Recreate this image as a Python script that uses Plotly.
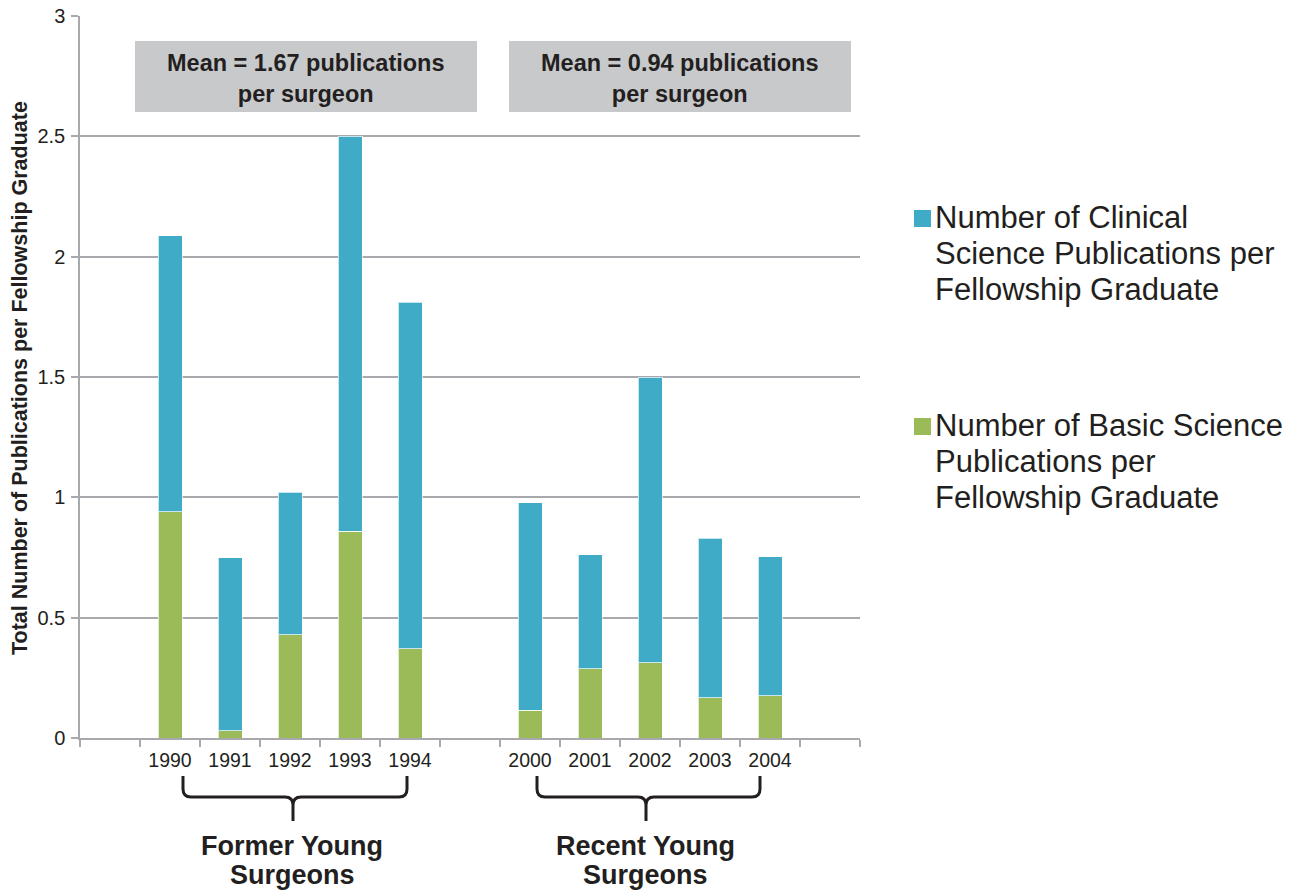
import plotly.graph_objects as go

# ---- data ----
categories = [" ", "1990", "1991", "1992", "1993", "1994", "  ",
              "2000", "2001", "2002", "2003", "2004", "   "]
basic_science = [None, 0.94, 0.03, 0.43, 0.86, 0.37, None,
                 0.115, 0.287, 0.312, 0.167, 0.176, None]
clinical_science = [None, 1.146, 0.72, 0.592, 1.64, 1.441, None,
                    0.862, 0.475, 1.188, 0.664, 0.577, None]
y_ticks = [0, 0.5, 1, 1.5, 2, 2.5, 3]
y_tick_labels = ["0", "0.5", "1", "1.5", "2", "2.5", "3"]
legend_lines = [["Number of Clinical", "Science Publications per", "Fellowship Graduate"],
                ["Number of Basic Science", "Publications per", "Fellowship Graduate"]]
mean_labels = ["Mean = 1.67 publications<br>per surgeon",
               "Mean = 0.94 publications<br>per surgeon"]
group_lines = [["Former Young", "Surgeons"], ["Recent Young", "Surgeons"]]
y_title = "Total Number of Publications per Fellowship Graduate"

BLUE = "#3fabc6"
GREEN = "#9bbb59"
TEXT = "#231f20"
GRID = "#a7a9ac"
FONT = "Liberation Sans"

W, H = 1300, 893
L, R, T, B = 80, 440, 16, 155
PW, PH = W - L - R, H - T - B


def px(x):
    return (x - L) / PW


def py(y):
    return (H - B - y) / PH


fig = go.Figure()
fig.add_trace(go.Bar(x=categories, y=basic_science, name="Basic",
                     marker=dict(color=GREEN, line=dict(color="rgba(255,255,255,0.7)", width=1)),
                     showlegend=False))
fig.add_trace(go.Bar(x=categories, y=clinical_science, name="Clinical",
                     marker=dict(color=BLUE, line=dict(color="rgba(255,255,255,0.7)", width=1)),
                     showlegend=False))

shapes = []
annotations = []


def text_line(x, y, s, size, bold=False, xanchor="left"):
    annotations.append(dict(xref="paper", yref="paper", x=px(x), y=py(y),
                            text=("<b>" + s + "</b>") if bold else s, showarrow=False,
                            xanchor=xanchor, yanchor="middle",
                            font=dict(size=size, color=TEXT, family=FONT)))


# mean boxes
boxes = [(135, 477), (509, 851)]
for (x0, x1), lab in zip(boxes, mean_labels):
    shapes.append(dict(type="rect", xref="paper", yref="paper",
                       x0=px(x0), x1=px(x1), y0=py(112), y1=py(41),
                       fillcolor="#c8c9cb", line=dict(width=0), layer="above"))
    annotations.append(dict(xref="paper", yref="paper", x=px((x0 + x1) / 2), y=py(78.5),
                            text="<b>" + lab + "</b>", showarrow=False,
                            xanchor="center", yanchor="middle",
                            font=dict(size=23.5, color=TEXT, family=FONT)))

# braces
braces = [(183, 293, 407), (537, 646, 760)]
for (x0, xm, x1), lines in zip(braces, group_lines):
    ytop, ymid, ytip = 776, 797, 821
    r = 8
    pts = [
        f"M {px(x0)},{py(ytop)}",
        f"L {px(x0)},{py(ymid - r)}",
        f"Q {px(x0)},{py(ymid)} {px(x0 + r)},{py(ymid)}",
        f"L {px(xm - r)},{py(ymid)}",
        f"Q {px(xm)},{py(ymid)} {px(xm)},{py(ymid + r)}",
        f"L {px(xm)},{py(ytip)}",
        f"M {px(xm)},{py(ymid + r)}",
        f"Q {px(xm)},{py(ymid)} {px(xm + r)},{py(ymid)}",
        f"L {px(x1 - r)},{py(ymid)}",
        f"Q {px(x1)},{py(ymid)} {px(x1)},{py(ymid - r)}",
        f"L {px(x1)},{py(ytop)}",
    ]
    shapes.append(dict(type="path", xref="paper", yref="paper", path=" ".join(pts),
                       line=dict(color=TEXT, width=3)))
    text_line(xm - 1, 846, lines[0], 27, bold=True, xanchor="center")
    text_line(xm - 1, 875, lines[1], 27, bold=True, xanchor="center")

# manual legend
legend_items = [(BLUE, legend_lines[0], 210, 217.5), (GREEN, legend_lines[1], 418, 425.5)]
for color, lines, sq_top, first in legend_items:
    shapes.append(dict(type="rect", xref="paper", yref="paper",
                       x0=px(914), x1=px(931), y0=py(sq_top + 17), y1=py(sq_top),
                       fillcolor=color, line=dict(width=0)))
    for i, s in enumerate(lines):
        text_line(933, first + 36 * i, s, 31)

# y-axis title
annotations.append(dict(xref="paper", yref="paper", x=px(20), y=py(378),
                        text="<b>" + y_title + "</b>", textangle=-90, showarrow=False,
                        xanchor="center", yanchor="middle",
                        font=dict(size=21.5, color=TEXT, family=FONT)))

fig.update_layout(
    width=W, height=H,
    margin=dict(l=L, r=R, t=T, b=B, pad=0),
    paper_bgcolor="white", plot_bgcolor="white",
    barmode="stack", bargap=0.6,
    font=dict(family=FONT, color=TEXT),
    shapes=shapes, annotations=annotations,
    showlegend=False,
    xaxis=dict(type="category", categoryorder="array", categoryarray=categories,
               tickson="boundaries", ticks="outside", ticklen=7, tickcolor=GRID, tickwidth=1.5,
               showline=True, linecolor=GRID, linewidth=1.5,
               showgrid=False, zeroline=False, automargin=False,
               ticklabelstandoff=4,
               tickfont=dict(size=19.5, color=TEXT, family=FONT),
               range=[-0.5, len(categories) - 0.5]),
    yaxis=dict(range=[0, 3], tickvals=y_ticks, ticktext=y_tick_labels,
               ticks="outside", ticklen=7, tickcolor=GRID, tickwidth=1.5,
               showline=True, linecolor=GRID, linewidth=1.5, automargin=False,
               showgrid=True, gridcolor=GRID, gridwidth=1.5, zeroline=False,
               ticklabelstandoff=2,
               tickfont=dict(size=20, color=TEXT, family=FONT)),
)

fig.write_html("out.html")
